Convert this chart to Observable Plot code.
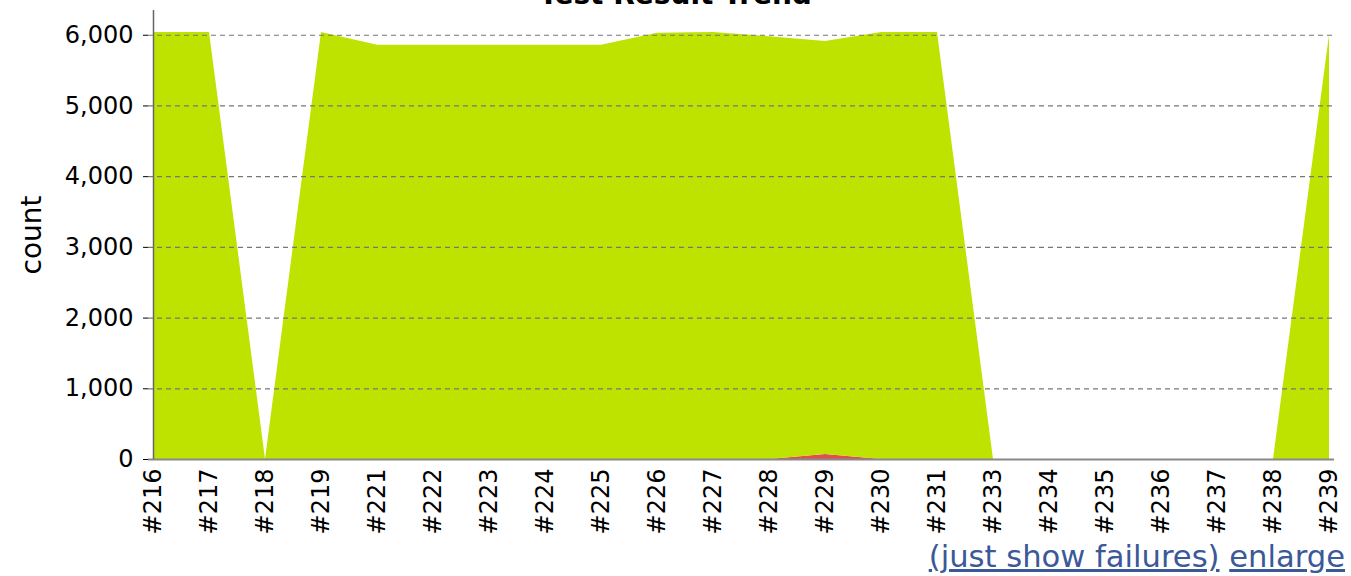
<!DOCTYPE html>
<html>
<head>
<meta charset="utf-8">
<script src="https://cdn.jsdelivr.net/npm/d3@7"></script>
<script src="https://cdn.jsdelivr.net/npm/@observablehq/plot@0.6"></script>
<style>
  html, body { margin: 0; padding: 0; background: #fff; overflow: hidden; }
  #wrap { position: relative; width: 1351px; height: 576px; font-family: "DejaVu Sans", sans-serif; }
  #title { position: absolute; left: 0; width: 1351px; top: -22px; text-align: center; font-weight: bold; font-size: 28px; color: #000; }
  #chart { position: absolute; left: 0; top: 0; }
  #links { position: absolute; right: 6px; top: 539px; font-size: 30.6px; line-height: 36px; color: #3b5998; white-space: nowrap; }
  #links span { text-decoration: underline; }
</style>
</head>
<body>
<div id="wrap">
  <div id="chart"></div>
  <div id="title">Test Result Trend</div>
  <div id="links"><span>(just show failures)</span> <span>enlarge</span></div>
</div>
<script>
const builds = ["#216","#217","#218","#219","#221","#222","#223","#224","#225","#226","#227","#228","#229","#230","#231","#233","#234","#235","#236","#237","#238","#239"];
const failCounts = [0,0,0,0,0,0,0,0,0,0,0,0,70,0,0,0,0,0,0,0,0,0];
const totalCounts = [6040,6040,0,6040,5860,5860,5860,5860,5860,6030,6040,5980,5910,6040,6040,0,0,0,0,0,0,6000];
const yTicks = [0,1000,2000,3000,4000,5000,6000];

const rows = [];
builds.forEach((b, i) => {
  rows.push({build: b, series: "Failed", count: failCounts[i]});
  rows.push({build: b, series: "Passed", count: totalCounts[i] - failCounts[i]});
});

const W = 1351, ML = 148, MR = 17;
const chart = Plot.plot({
  width: W,
  height: 545,
  marginLeft: ML,
  marginRight: MR,
  marginTop: 10,
  marginBottom: 86,
  style: {fontFamily: "DejaVu Sans, sans-serif", fontSize: "24px", color: "#000", background: "transparent"},
  x: {type: "point", domain: builds, range: [ML, W - MR], padding: 0, label: null, tickRotate: -90, tickSize: 0, tickPadding: 9},
  y: {domain: [0, 6350], ticks: yTicks, tickFormat: d3.format(","), label: null, tickSize: 5, tickPadding: 10},
  color: {domain: ["Failed", "Passed"], range: ["#e0504a", "#bee300"]},
  marks: [
    Plot.areaY(rows, {x: "build", y: "count", fill: "series", order: ["Failed", "Passed"], curve: "linear"}),
    Plot.gridY(yTicks.filter(d => d > 0), {stroke: "#777", strokeOpacity: 1, strokeWidth: 1.2, strokeDasharray: "5,4"}),
    Plot.ruleY([0], {stroke: "#888", strokeWidth: 2}),
    Plot.ruleX([builds[0]], {y1: 0, y2: 6350, stroke: "#666", strokeWidth: 1.5}),
    Plot.text(["count"], {frameAnchor: "left", textAnchor: "middle", dx: -116, rotate: -90, fontSize: 28, fill: "#000"})
  ]
});
document.getElementById("chart").appendChild(chart);
</script>
</body>
</html>
